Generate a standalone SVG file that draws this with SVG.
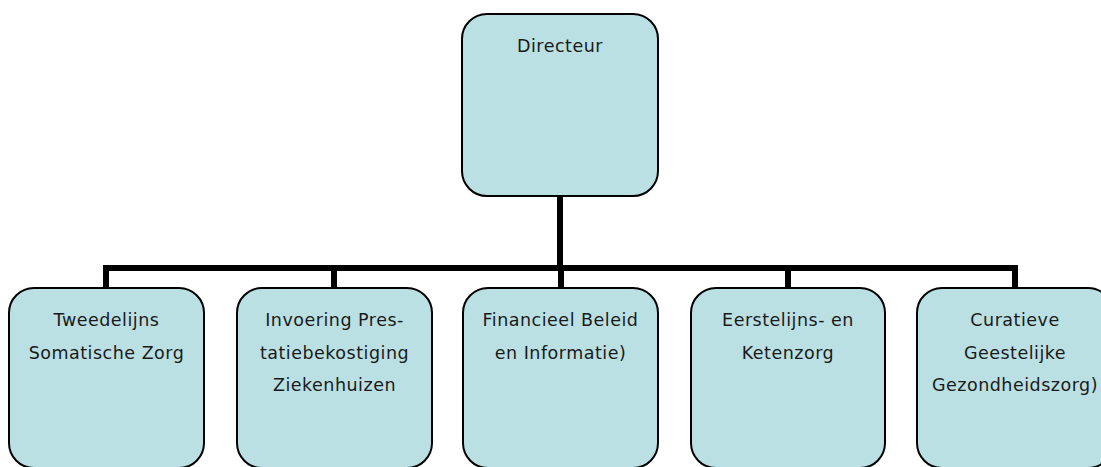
<svg xmlns="http://www.w3.org/2000/svg" width="1101" height="467" viewBox="0 0 1101 467">
  <style>
    .box { fill: #bae0e3; stroke: #000; stroke-width: 2; }
    .lbl { font-family: "DejaVu Sans", Verdana, sans-serif; font-size: 17.5px; letter-spacing: 0.5px; fill: #1a1a1a; text-anchor: middle; }
    .wire { fill: none; stroke: #000; stroke-width: 6; stroke-linecap: square; }
  </style>
  <rect width="1101" height="467" fill="#fff"/>

  <g id="connectors">
    <path class="wire" d="M560,197 V268"/>
    <path class="wire" d="M106,268 H1015"/>
    <path class="wire" d="M106,268 V287"/>
    <path class="wire" d="M334,268 V287"/>
    <path class="wire" d="M561,268 V287"/>
    <path class="wire" d="M788,268 V287"/>
    <path class="wire" d="M1015,268 V287"/>
  </g>

  <g id="directeur">
    <rect class="box" x="462" y="14" width="196" height="182" rx="25"/>
    <text class="lbl" x="560" y="52">Directeur</text>
  </g>

  <g id="tweedelijns">
    <rect class="box" x="9" y="288" width="195" height="180" rx="25"/>
    <text class="lbl" x="106.5" y="326">Tweedelijns</text>
    <text class="lbl" x="106.5" y="358.5">Somatische Zorg</text>
  </g>

  <g id="prestatiebekostiging">
    <rect class="box" x="237" y="288" width="195" height="180" rx="25"/>
    <text class="lbl" x="334.5" y="326">Invoering Pres-</text>
    <text class="lbl" x="334.5" y="358.5">tatiebekostiging</text>
    <text class="lbl" x="334.5" y="391">Ziekenhuizen</text>
  </g>

  <g id="financieel">
    <rect class="box" x="463" y="288" width="195" height="180" rx="25"/>
    <text class="lbl" x="560.5" y="326">Financieel Beleid</text>
    <text class="lbl" x="560.5" y="358.5">en Informatie)</text>
  </g>

  <g id="eerstelijns">
    <rect class="box" x="691" y="288" width="194" height="180" rx="25"/>
    <text class="lbl" x="788" y="326">Eerstelijns- en</text>
    <text class="lbl" x="788" y="358.5">Ketenzorg</text>
  </g>

  <g id="curatieve">
    <rect class="box" x="917" y="288" width="196" height="180" rx="25"/>
    <text class="lbl" x="1015" y="326">Curatieve</text>
    <text class="lbl" x="1015" y="358.5">Geestelijke</text>
    <text class="lbl" x="1015" y="391">Gezondheidszorg)</text>
  </g>
</svg>
